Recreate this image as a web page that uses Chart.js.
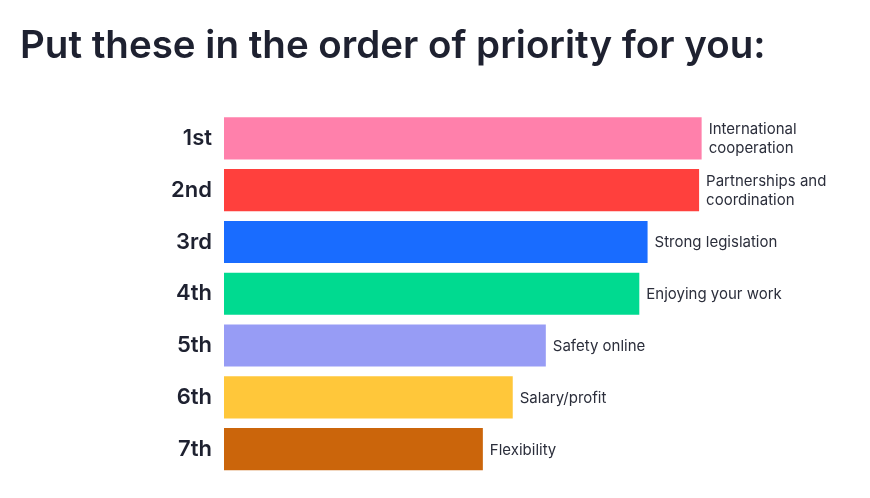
<!DOCTYPE html>
<html>
<head>
<meta charset="utf-8">
<script src="https://cdn.jsdelivr.net/npm/chart.js@4/dist/chart.umd.min.js"></script>
<style>
  html, body { margin: 0; padding: 0; background: #ffffff; }
  #wrap { width: 870px; height: 498px; }
</style>
</head>
<body>
<div id="wrap"><canvas id="c" width="870" height="498"></canvas></div>
<script>
const titleText = "Put these in the order of priority for you:";
const ranks = ["1st", "2nd", "3rd", "4th", "5th", "6th", "7th"];
const items = [
  ["International", "cooperation"],
  ["Partnerships and", "coordination"],
  ["Strong legislation"],
  ["Enjoying your work"],
  ["Safety online"],
  ["Salary/profit"],
  ["Flexibility"]
];
const scores = [75.1, 74.7, 66.6, 65.3, 50.6, 45.4, 40.7];
const colors = ["#ff80ab", "#ff403d", "#196cff", "#00da90", "#979cf5", "#ffc73a", "#cb650b"];

const itemLabels = {
  id: "itemLabels",
  afterDatasetsDraw(chart) {
    const ctx = chart.ctx;
    const meta = chart.getDatasetMeta(0);
    ctx.save();
    ctx.font = "400 15px Inter, 'Noto Sans', sans-serif";
    ctx.fillStyle = "#2b2e3b";
    ctx.textAlign = "left";
    ctx.textBaseline = "middle";
    const lh = 19;
    meta.data.forEach((bar, i) => {
      const lines = items[i];
      const start = bar.y - (lines.length - 1) * lh / 2 + 1;
      lines.forEach((ln, j) => ctx.fillText(ln, bar.x + 7, start + j * lh));
    });
    ctx.restore();
  }
};

new Chart(document.getElementById("c"), {
  type: "bar",
  data: {
    labels: ranks,
    datasets: [{
      data: scores,
      backgroundColor: colors,
      borderWidth: 0,
      barPercentage: 0.814,
      categoryPercentage: 1
    }]
  },
  options: {
    indexAxis: "y",
    responsive: false,
    animation: false,
    devicePixelRatio: 1,
    layout: { padding: { left: 20, right: 10, top: 0, bottom: 23 } },
    plugins: {
      legend: { display: false },
      tooltip: { enabled: false },
      title: {
        display: true,
        text: titleText,
        align: "start",
        color: "#1e2130",
        font: { family: "Inter, 'Noto Sans', sans-serif", size: 38.5, weight: "600", lineHeight: 1.2 },
        padding: { top: 23, bottom: 43.3 }
      }
    },
    scales: {
      x: { display: false, min: 0, max: 100 },
      y: {
        grid: { display: false },
        border: { display: false },
        ticks: {
          color: "#1e2130",
          padding: 4,
          font: { family: "Inter, 'Noto Sans', sans-serif", size: 22, weight: "600" }
        },
        afterFit(scale) { scale.width = 204; }
      }
    }
  },
  plugins: [itemLabels]
});
</script>
</body>
</html>
